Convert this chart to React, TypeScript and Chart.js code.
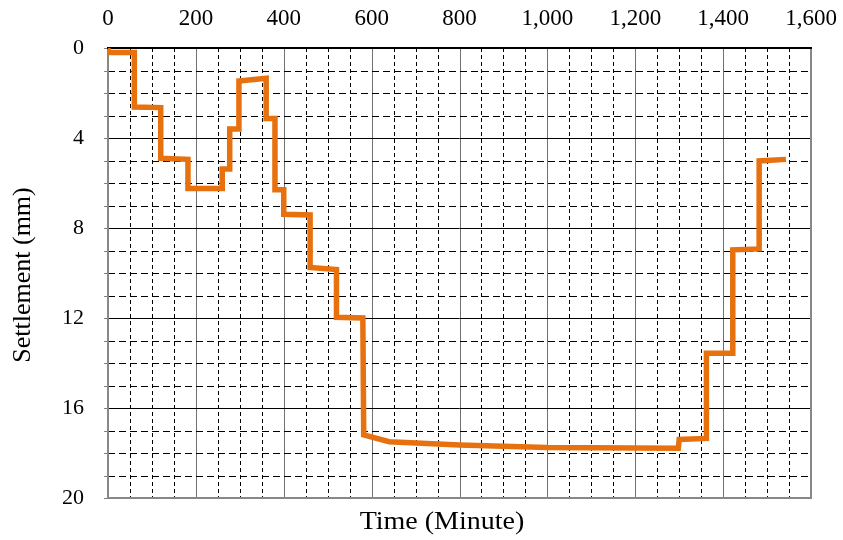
import React, { useEffect, useRef } from "react";
import { Chart, registerables } from "chart.js";

Chart.register(...registerables);

// Time (minutes) and settlement (mm)
const timeMin = [
  0, 0, 60, 60, 120, 120, 182, 182, 260, 260, 277, 277, 298, 298, 360, 360,
  380, 380, 400, 400, 460, 460, 520, 520, 580, 582, 640, 800, 1000, 1298, 1300,
  1362, 1362, 1422, 1422, 1482, 1482, 1543,
];
const settlementMm = [
  0, 0.2, 0.2, 2.62, 2.65, 4.9, 4.95, 6.24, 6.24, 5.38, 5.38, 3.6, 3.6, 1.47,
  1.35, 3.13, 3.13, 6.3, 6.3, 7.39, 7.42, 9.75, 9.85, 11.97, 12.0, 17.2, 17.5,
  17.64, 17.76, 17.79, 17.4, 17.35, 13.57, 13.57, 8.97, 8.93, 5.02, 4.95,
];

const xMin = 0;
const xMax = 1600;
const xMajorStep = 200;
const xMinorStep = 50;
const yMin = 0;
const yMax = 20;
const yMajorStep = 4;
const yMinorStep = 1;

const xTitle = "Time (Minute)";
const yTitle = "Settlement (mm)";

const FONT = '"Liberation Serif", "Times New Roman", serif';

export default function App() {
  const canvasRef = useRef<HTMLCanvasElement>(null);

  useEffect(() => {
    const canvas = canvasRef.current;
    if (!canvas) return;

    const gridPlugin = {
      id: "customGrid",
      beforeDatasetsDraw(chart: any) {
        const { ctx, chartArea: a, scales } = chart;
        const x = scales.x;
        const y = scales.y;
        ctx.save();
        ctx.lineWidth = 1;
        // vertical grid
        for (let t = xMin + xMinorStep; t < xMax; t += xMinorStep) {
          const px = Math.round(x.getPixelForValue(t)) + 0.5;
          if (t % xMajorStep === 0) {
            ctx.setLineDash([]);
            ctx.strokeStyle = "#6f6f6f";
          } else {
            ctx.setLineDash([4, 3]);
            ctx.strokeStyle = "#000000";
          }
          ctx.beginPath();
          ctx.moveTo(px, a.top);
          ctx.lineTo(px, a.bottom);
          ctx.stroke();
        }
        // horizontal grid
        for (let v = yMin + yMinorStep; v < yMax; v += yMinorStep) {
          const py = Math.round(y.getPixelForValue(v)) + 0.5;
          if (v % yMajorStep === 0) {
            ctx.setLineDash([]);
            ctx.strokeStyle = "#000000";
          } else {
            ctx.setLineDash([7, 4]);
            ctx.strokeStyle = "#000000";
          }
          ctx.beginPath();
          ctx.moveTo(a.left, py);
          ctx.lineTo(a.right, py);
          ctx.stroke();
        }
        ctx.setLineDash([]);
        // left tick marks
        ctx.strokeStyle = "#7f7f7f";
        for (let v = yMin; v <= yMax; v += yMinorStep) {
          const py = Math.round(y.getPixelForValue(v)) + 0.5;
          ctx.beginPath();
          ctx.moveTo(a.left - 4, py);
          ctx.lineTo(a.left, py);
          ctx.stroke();
        }
        // frame
        ctx.lineWidth = 2;
        ctx.strokeStyle = "#888888";
        ctx.beginPath();
        ctx.moveTo(a.left, a.top);
        ctx.lineTo(a.left, a.bottom);
        ctx.lineTo(a.right, a.bottom);
        ctx.lineTo(a.right, a.top);
        ctx.stroke();
        ctx.strokeStyle = "#000000";
        ctx.beginPath();
        ctx.moveTo(a.left - 1, a.top);
        ctx.lineTo(a.right + 1, a.top);
        ctx.stroke();
        ctx.restore();
      },
      afterDraw(chart: any) {
        const { ctx } = chart;
        ctx.save();
        ctx.fillStyle = "#000000";
        ctx.textAlign = "center";
        ctx.textBaseline = "alphabetic";
        ctx.save();
        ctx.font = `25px ${FONT}`;
        ctx.translate(442, 529);
        ctx.scale(1.12, 1);
        ctx.fillText(xTitle, 0, 0);
        ctx.restore();
        ctx.font = `26px ${FONT}`;
        ctx.translate(30, 275);
        ctx.rotate(-Math.PI / 2);
        ctx.fillText(yTitle, 0, 0);
        ctx.restore();
      },
    };

    const points = timeMin.map((t, i) => ({ x: t, y: settlementMm[i] }));

    const chart = new Chart(canvas, {
      type: "scatter",
      data: {
        datasets: [
          {
            data: points,
            showLine: true,
            borderColor: "#E8710F",
            backgroundColor: "#E8710F",
            borderWidth: 5.5,
            pointRadius: 0,
            tension: 0,
            borderJoinStyle: "miter",
          } as any,
        ],
      },
      options: {
        responsive: false,
        animation: false,
        maintainAspectRatio: false,
        layout: { padding: { left: 0, right: 32, top: 0, bottom: 42 } },
        plugins: { legend: { display: false }, tooltip: { enabled: false } },
        scales: {
          x: {
            type: "linear",
            position: "top",
            min: xMin,
            max: xMax,
            grid: { display: false, drawTicks: false },
            border: { display: false },
            ticks: {
              stepSize: xMajorStep,
              color: "#000000",
              padding: 15,
              maxRotation: 0,
              font: { family: FONT, size: 23 },
            },
            afterFit: (s: any) => {
              s.height = 48;
              s.paddingLeft = 0;
              s.paddingRight = 0;
            },
          },
          y: {
            type: "linear",
            reverse: true,
            min: yMin,
            max: yMax,
            grid: { display: false, drawTicks: false },
            border: { display: false },
            ticks: {
              stepSize: yMajorStep,
              color: "#000000",
              padding: 24,
              font: { family: FONT, size: 22 },
            },
            afterFit: (s: any) => {
              s.width = 108;
              s.paddingTop = 0;
              s.paddingBottom = 0;
            },
          },
        },
      } as any,
      plugins: [gridPlugin],
    });

    return () => chart.destroy();
  }, []);

  return (
    <div style={{ position: "absolute", left: 0, top: 0, width: 843, height: 540, background: "#fff" }}>
      <canvas ref={canvasRef} width={843} height={540} style={{ width: 843, height: 540 }} />
    </div>
  );
}
